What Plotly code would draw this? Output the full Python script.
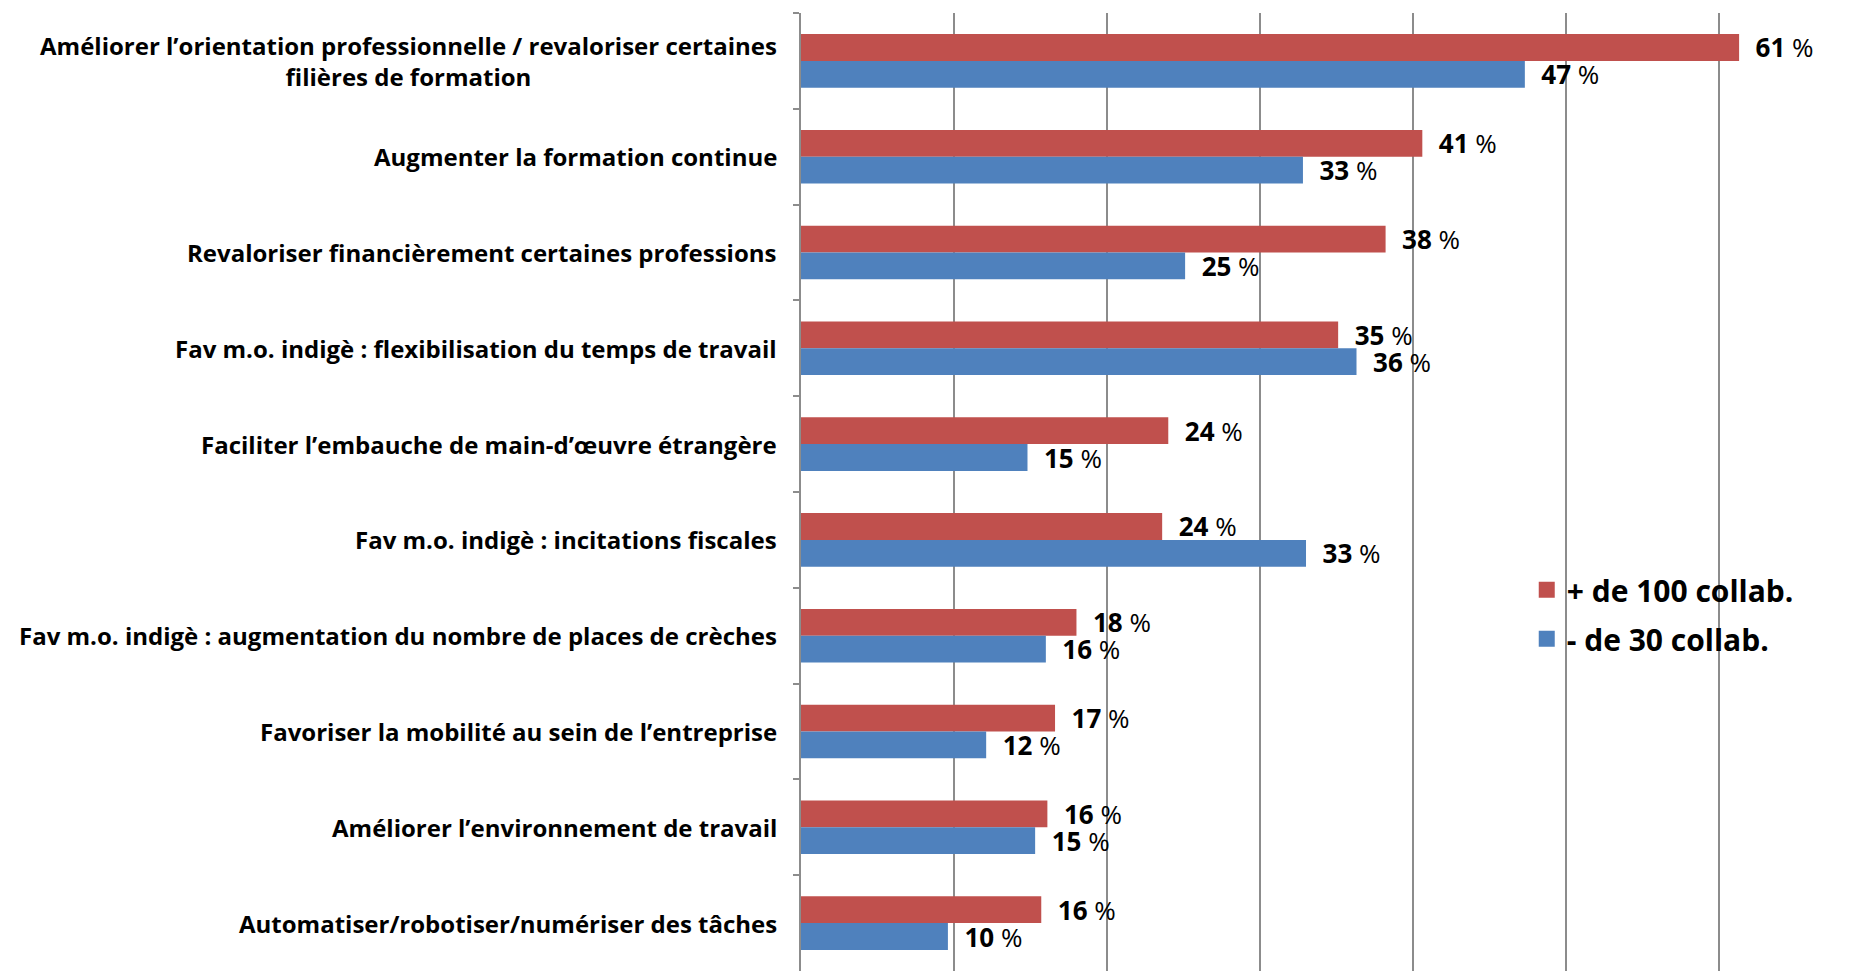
import plotly.graph_objects as go

categories = [
    "Améliorer l’orientation professionnelle / revaloriser certaines<br>filières de formation",
    "Augmenter la formation continue",
    "Revaloriser financièrement certaines professions",
    "Fav m.o. indigè : flexibilisation du temps de travail",
    "Faciliter l’embauche de main-d’œuvre étrangère",
    "Fav m.o. indigè : incitations fiscales",
    "Fav m.o. indigè : augmentation du nombre de places de crèches",
    "Favoriser la mobilité au sein de l’entreprise",
    "Améliorer l’environnement de travail",
    "Automatiser/robotiser/numériser des tâches",
]
plus_100 = [61.3, 40.6, 38.2, 35.1, 24.0, 23.6, 18.0, 16.6, 16.1, 15.7]
moins_30 = [47.3, 32.8, 25.1, 36.3, 14.8, 33.0, 16.0, 12.1, 15.3, 9.6]
series_names = ["+ de 100 collab.", "- de 30 collab."]
colors = ["#C0504D", "#4F81BD"]

cat_font = "Open Sans, Noto Sans, DejaVu Sans, sans-serif"
lab_font = "Open Sans, Noto Sans, DejaVu Sans, sans-serif"

fig = go.Figure()
for name, vals, col in zip(series_names, [plus_100, moins_30], colors):
    fig.add_trace(go.Bar(
        y=categories, x=vals, orientation="h", name=name,
        marker=dict(color=col, line=dict(width=0)),
        texttemplate="\u00a0\u00a0<b>%{x:.0f}</b> %",
        textposition="outside", cliponaxis=False, constraintext="none",
        textfont=dict(family=lab_font, size=26, color="black"),
        showlegend=False,
    ))
    fig.add_trace(go.Scatter(
        x=[None], y=[None], mode="markers", name=name, legendgroup=name,
        marker=dict(symbol="square", size=17, color=col),
    ))

for c in categories:
    fig.add_annotation(
        x=0, xref="paper", y=c, yref="y", text=c, showarrow=False,
        xanchor="right", yanchor="middle", align="center", xshift=-22,
        font=dict(family=cat_font, size=24, color="black", weight="bold"),
    )

fig.update_layout(
    width=1865, height=973,
    margin=dict(l=793, r=0, t=5, b=10),
    paper_bgcolor="white", plot_bgcolor="white",
    barmode="group", bargap=0.44, bargroupgap=0,
    legend=dict(
        x=0.677, y=0.425, xanchor="left", yanchor="top",
        font=dict(family=cat_font, size=30, color="black", weight="bold"),
        tracegroupgap=7, bgcolor="rgba(0,0,0,0)",
    ),
    xaxis=dict(
        range=[0, 70.05], dtick=10, showgrid=True, gridcolor="#8C8C8C",
        gridwidth=1.5, zeroline=False, showticklabels=False, showline=False,
    ),
    yaxis=dict(
        autorange="reversed", showticklabels=False, showline=True,
        linecolor="#8C8C8C", linewidth=1.5, ticks="outside", tickson="boundaries",
        ticklen=6, tickcolor="#8C8C8C", tickwidth=1.5, showgrid=False,
    ),
)

fig.write_html("out.html")
